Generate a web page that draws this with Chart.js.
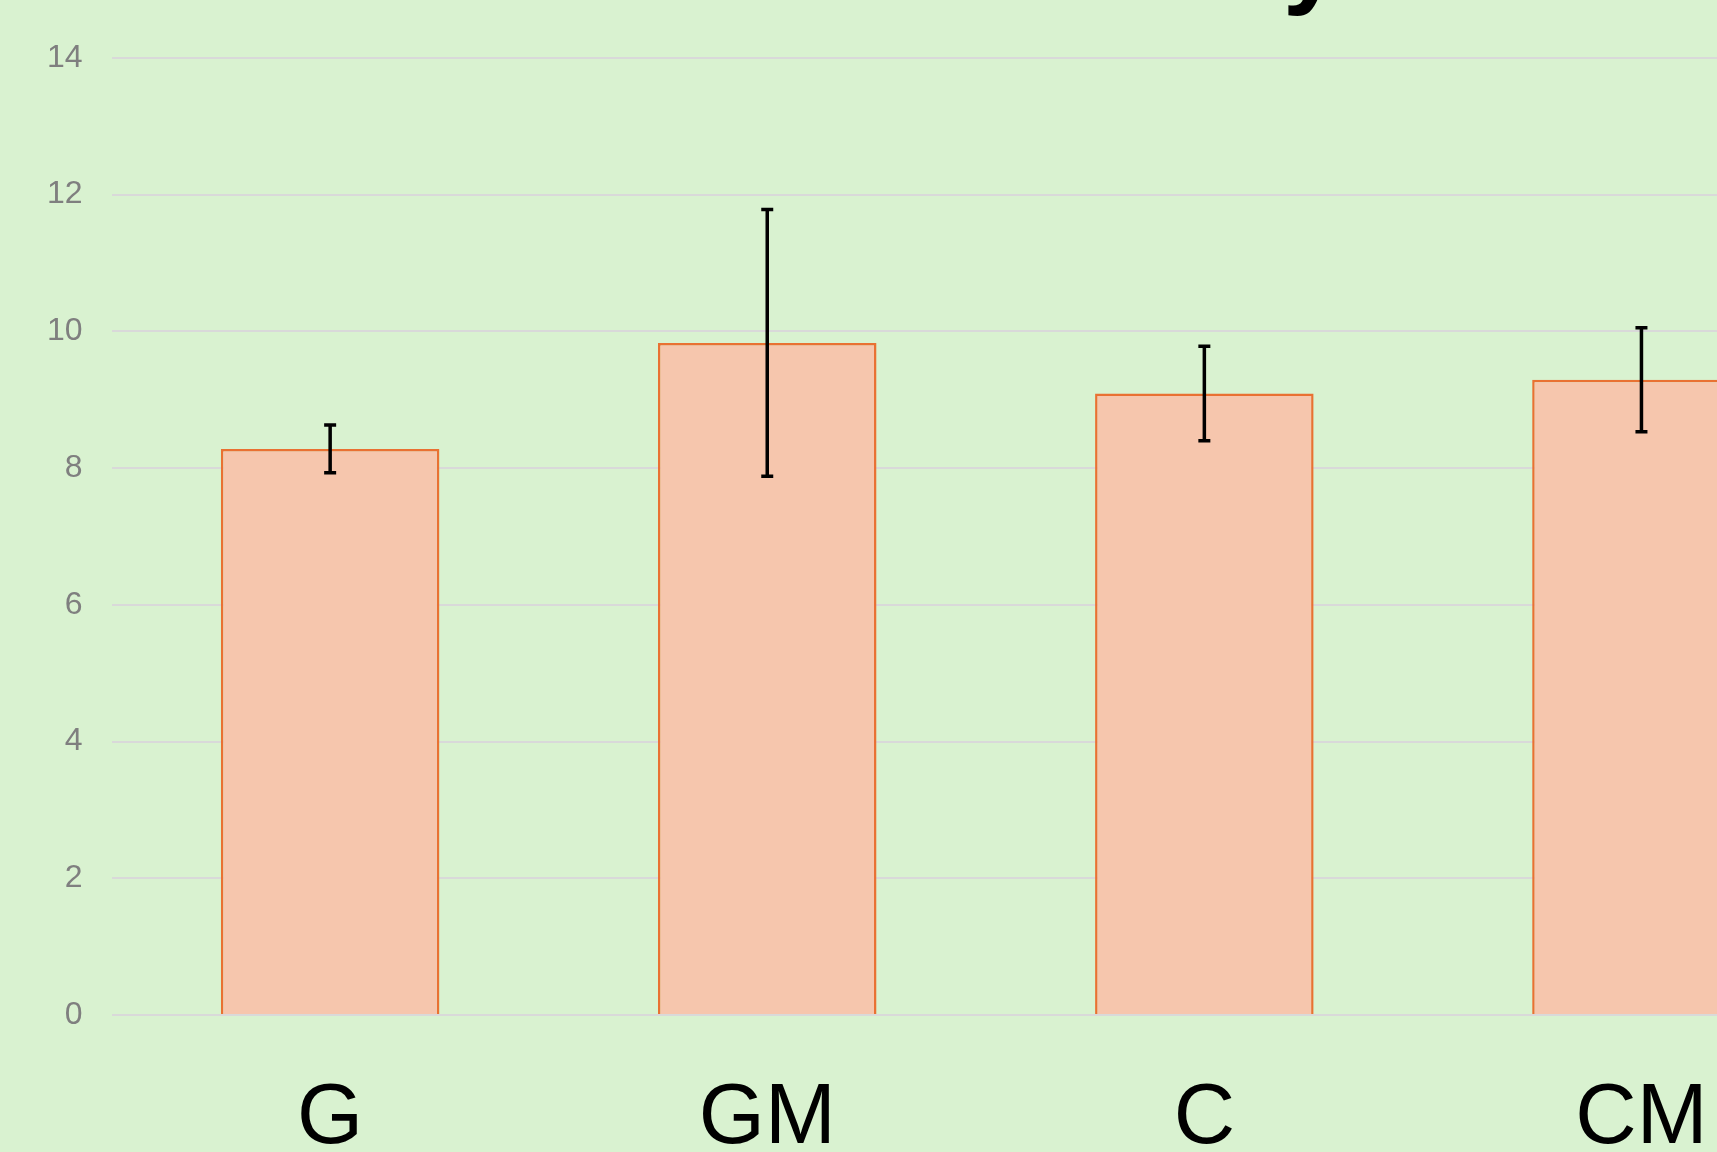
<!DOCTYPE html>
<html>
<head>
<meta charset="utf-8">
<title>Bar chart</title>
<script src="https://cdn.jsdelivr.net/npm/chart.js@4/dist/chart.umd.min.js"></script>
<style>
    html, body { margin: 0; padding: 0; overflow: hidden; background: #d9f2d0; }
    body { width: 1717px; height: 1152px; position: relative; }
    #wrap { position: absolute; left: 0; top: -97px; width: 1880px; height: 1322px; }
</style>
</head>
<body>
<div id="wrap"><canvas id="mainChart"></canvas></div>
<script>
// data
const categories = ['G', 'GM', 'C', 'CM'];
const means = [8.28, 9.83, 9.09, 9.29];
const errors = [0.35, 1.95, 0.69, 0.76];
const yTicks = [0, 2, 4, 6, 8, 10, 12, 14];

const titleText = 'Relative Activity';

Chart.defaults.font.family = "'Liberation Sans', Arial, sans-serif";

// error bars drawn on top of the bars
const errorBars = {
    id: 'errorBars',
    afterDatasetsDraw(chart) {
        const ctx = chart.ctx;
        const x = chart.scales.x;
        const y = chart.scales.y;
        ctx.save();
        ctx.strokeStyle = '#000';
        ctx.lineWidth = 3.5;
        means.forEach((m, i) => {
            const px = x.getPixelForValue(i);
            const top = y.getPixelForValue(m + errors[i]);
            const bot = y.getPixelForValue(m - errors[i]);
            ctx.beginPath();
            ctx.moveTo(px, top);
            ctx.lineTo(px, bot);
            ctx.moveTo(px - 6, top);
            ctx.lineTo(px + 6, top);
            ctx.moveTo(px - 6, bot);
            ctx.lineTo(px + 6, bot);
            ctx.stroke();
        });
        ctx.restore();
    }
};

const ctx = document.getElementById('mainChart').getContext('2d');
window.myChart = new Chart(ctx, {
    type: 'bar',
    data: {
        labels: categories,
        datasets: [{
            data: means,
            backgroundColor: '#f6c6ad',
            borderColor: '#e97132',
            borderWidth: 2.5,
            borderSkipped: 'start',
            barPercentage: 0.5,
            categoryPercentage: 1
        }]
    },
    options: {
        responsive: true,
        maintainAspectRatio: false,
        animation: false,
        layout: { padding: { left: 18, right: 20, top: 0, bottom: 0 } },
        scales: {
            y: {
                min: 0,
                max: 14,
                afterBuildTicks: (axis) => { axis.ticks = yTicks.map(v => ({ value: v })); },
                border: { display: false },
                grid: { color: '#d9d9d9', lineWidth: 2, drawTicks: false },
                ticks: { color: '#7f7f7f', font: { size: 32 }, padding: 29 }
            },
            x: {
                border: { display: false },
                grid: { display: false, drawTicks: false },
                ticks: { color: '#000', font: { size: 85 }, padding: 54 }
            }
        },
        plugins: {
            legend: { display: false },
            tooltip: { enabled: false },
            title: {
                display: true,
                text: titleText,
                color: '#000',
                font: { size: 104, weight: 'bold' },
                padding: { top: 0, bottom: 30 }
            }
        }
    },
    plugins: [errorBars]
});
</script>
</body>
</html>
